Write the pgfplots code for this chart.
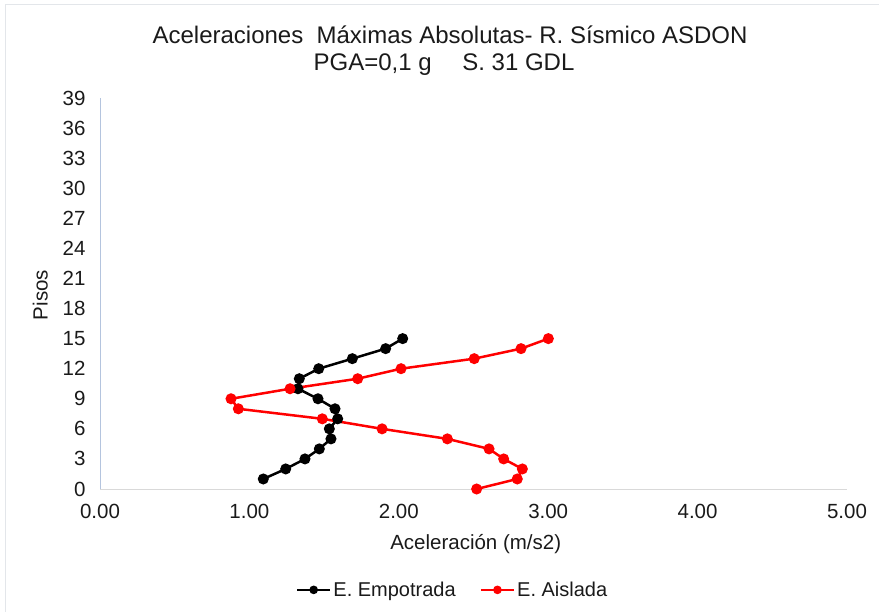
\documentclass[border=0pt]{standalone}
\usepackage{pgfplots}
\pgfplotsset{compat=1.18}
\usepackage{fontspec}
\setmainfont{Liberation Sans}
\definecolor{txt}{HTML}{1A1A1A}
\definecolor{yax}{HTML}{B4C4DE}
\definecolor{xax}{HTML}{D9D9D9}
\definecolor{frm}{HTML}{E3E6EA}
\begin{document}
\begin{tikzpicture}
\path[use as bounding box] (0,0) rectangle (879bp,612bp);
\draw[frm, line width=1bp] (5bp,0) -- (5bp,607bp) -- (879bp,607bp);
\node[font=\fontsize{24bp}{28bp}\selectfont, text=txt] at (450bp,577bp) {Aceleraciones~ Máximas Absolutas- R. Sísmico ASDON};
\node[font=\fontsize{24bp}{28bp}\selectfont, text=txt] at (444bp,547bp) {PGA=0,1 g \quad S. 31 GDL};
\begin{axis}[
  at={(100bp,123bp)}, anchor=south west,
  scale only axis, width=747bp, height=391bp,
  xmin=0, xmax=5, ymin=0, ymax=39,
  xtick={0,1,2,3,4,5},
  ytick={0,3,...,39},
  axis x line*=bottom, axis y line*=left,
  x axis line style={xax, line width=1bp, -},
  y axis line style={yax, line width=1bp, -},
  major tick length=0pt,
  /pgf/number format/assume math mode=true,
  xticklabel={\pgfmathprintnumber[fixed, fixed zerofill, precision=2]{\tick}},
  ticklabel style={font=\fontsize{20.5bp}{24bp}\selectfont, text=txt},
  xticklabel style={yshift=-12bp},
  yticklabel style={xshift=-11bp},
  xlabel={Aceleración (m/s2)},
  ylabel={Pisos},
  xlabel style={at={(axis description cs:0.503,-0.14)}, anchor=center, font=\fontsize{20.5bp}{24bp}\selectfont, text=txt},
  ylabel style={at={(axis description cs:-0.080,0.496)}, anchor=center, rotate=0, font=\fontsize{20.5bp}{24bp}\selectfont, text=txt},
  legend style={at={(0.472,-0.258)}, anchor=center, draw=none, legend columns=2,
    font=\fontsize{20bp}{24bp}\selectfont, text=txt,
    /tikz/every even column/.append style={column sep=22bp},
    /tikz/every odd column/.append style={inner sep=1bp}},
  legend image code/.code={\draw[#1, mark repeat=2, mark phase=2, mark size=3bp] plot coordinates {(0bp,0bp) (16.5bp,0bp) (33bp,0bp)};},
  clip=false,
]
\addplot[black, line width=2.5bp, mark=*, mark size=4.2bp] coordinates {
(1.093,1) (1.243,2) (1.372,3) (1.468,4) (1.546,5) (1.535,6) (1.591,7) (1.573,8)
(1.459,9) (1.325,10) (1.334,11) (1.464,12) (1.689,13) (1.912,14) (2.026,15)};
\addlegendentry{E. Empotrada}
\addplot[red, line width=2.5bp, mark=*, mark size=4.2bp] coordinates {
(2.521,0) (2.793,1) (2.827,2) (2.702,3) (2.604,4) (2.325,5) (1.888,6) (1.488,7)
(0.926,8) (0.877,9) (1.272,10) (1.725,11) (2.015,12) (2.505,13) (2.818,14) (3.001,15)};
\addlegendentry{E. Aislada}
\end{axis}
\end{tikzpicture}
\end{document}
